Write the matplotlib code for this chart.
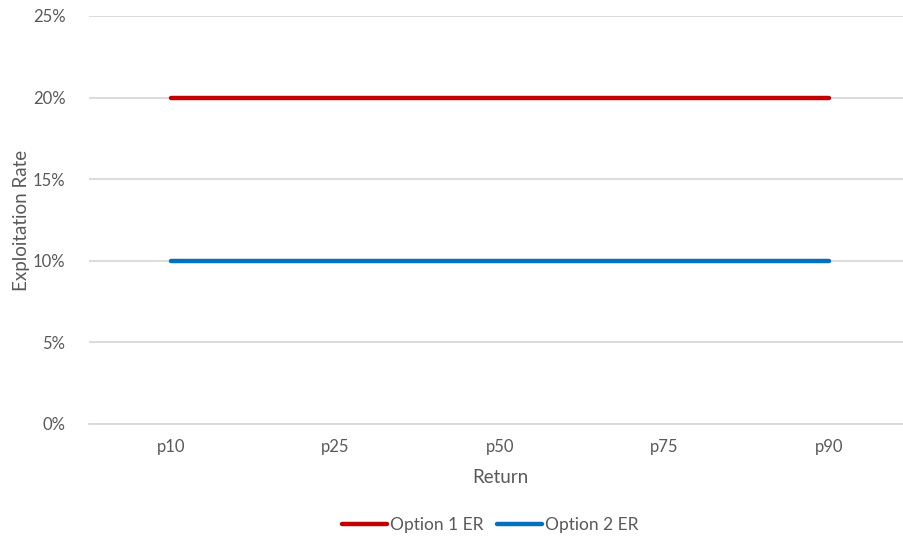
import matplotlib
matplotlib.use("Agg")
import matplotlib.pyplot as plt
from matplotlib.ticker import PercentFormatter

categories = ["p10", "p25", "p50", "p75", "p90"]
option1_er = [20, 20, 20, 20, 20]
option2_er = [10, 10, 10, 10, 10]
y_ticks = [0, 5, 10, 15, 20, 25]

plt.rcParams["font.family"] = ["Lato", "DejaVu Sans"]
text_color = "#595959"

W, H = 904, 539
fig = plt.figure(figsize=(W / 100, H / 100), dpi=100)
left, right, top, bottom = 89, 911, 16, 424
ax = fig.add_axes([left / W, 1 - bottom / H, (right - left) / W, (bottom - top) / H])

x = range(len(categories))
ax.plot(x, option1_er, color="#C00000", lw=3.2, solid_capstyle="round", label="Option 1 ER", zorder=3)
ax.plot(x, option2_er, color="#0070C0", lw=3.2, solid_capstyle="round", label="Option 2 ER", zorder=3)

ax.set_xlim(-0.5, len(categories) - 0.5)
ax.set_ylim(0, 25)
ax.set_yticks(y_ticks)
ax.yaxis.set_major_formatter(PercentFormatter(decimals=0))
ax.set_xticks(list(x))
ax.set_xticklabels(categories)

ax.grid(axis="y", color="#D9D9D9", lw=1.3)
ax.set_axisbelow(True)
for s in ["top", "right", "left"]:
    ax.spines[s].set_visible(False)
ax.spines["bottom"].set_color("#D9D9D9")
ax.spines["bottom"].set_linewidth(1.3)
ax.tick_params(length=0, colors=text_color, labelsize=12)
ax.tick_params(axis="y", pad=17)
ax.tick_params(axis="x", pad=11)

ax.set_xlabel("Return", color=text_color, fontsize=13.5, labelpad=10)
ax.set_ylabel("Exploitation Rate", color=text_color, fontsize=13.5, labelpad=2)

fig.legend(loc="center", bbox_to_anchor=(490 / W, 1 - 525 / H), ncol=2, frameon=False,
           fontsize=12.5, labelcolor=text_color, handlelength=2.6, handletextpad=0.15,
           columnspacing=0.8)

fig.savefig("out.png", dpi=100)
